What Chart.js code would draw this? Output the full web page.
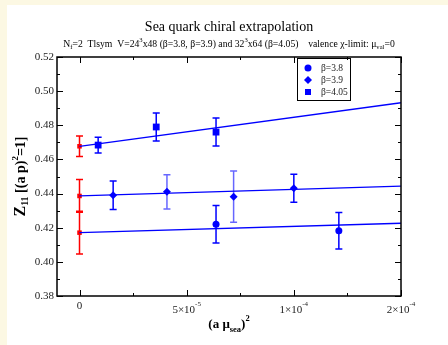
<!DOCTYPE html>
<html>
<head>
<meta charset="utf-8">
<script src="https://cdn.jsdelivr.net/npm/chart.js@4.4.1/dist/chart.umd.min.js"></script>
<style>
  body { margin: 0; background: #fcf8e3; }
  #wrap { position: absolute; left: 0; top: 0; width: 448px; height: 345px; }
</style>
</head>
<body>
<div id="wrap"><canvas id="c" width="448" height="345"></canvas></div>
<script>
// beta = 3.8 (circles)
var beta38X = [6.37e-5, 1.21e-4];
var beta38Y = [0.4220, 0.4182];
var beta38Err = [0.0110, 0.0107];

// beta = 3.9 (diamonds)
var beta39X = [1.57e-5, 4.08e-5, 7.19e-5, 1.0e-4];
var beta39Y = [0.4390, 0.4410, 0.4382, 0.4431];
var beta39Err = [0.0083, 0.0100, 0.0150, 0.0082];

// beta = 4.05 (squares)
var beta405X = [8.7e-6, 3.58e-5, 6.37e-5];
var beta405Y = [0.4684, 0.4790, 0.4760];
var beta405Err = [0.0046, 0.0082, 0.0082];

// chiral limit values (red, at x = 0)
var chiralY = [0.4677, 0.4386, 0.4171];
var chiralErr = [0.0060, 0.0096, 0.0125];

// linear fits: intercept + slope * x   (4.05, 3.9, 3.8)
var fitIntercept = [0.4677, 0.4386, 0.4171];
var fitSlope = [170, 38.7, 36.7];

var xTicks = [0, 5e-5, 1e-4, 1.5e-4];
var xTickLabels = [['0', ''], ['5\u00d710', '-5'], ['1\u00d710', '-4'], ['2\u00d710', '-4']];
var xMin = -1.05e-5, xMax = 1.5e-4;
var yMin = 0.38, yMax = 0.52;

var SERIF = "'Liberation Serif', 'DejaVu Serif', serif";
var blue = '#0000ff';
var red = '#ff0000';

function pts(xs, ys) {
  var out = [];
  for (var i = 0; i < xs.length; i++) out.push({x: xs[i], y: ys[i]});
  return out;
}
function fitLine(k) {
  return [{x: 0, y: fitIntercept[k]}, {x: xMax, y: fitIntercept[k] + fitSlope[k] * xMax}];
}

// draw text made of parts with different size / offset
function richWidth(ctx, parts) {
  var w = 0;
  parts.forEach(function(p) {
    ctx.font = (p.b ? 'bold ' : '') + p.s + 'px ' + SERIF;
    w += ctx.measureText(p.t).width;
  });
  return w;
}
function drawRich(ctx, parts, x, y, align) {
  var w = richWidth(ctx, parts);
  var cx = align == 'center' ? x - w / 2 : x;
  ctx.textAlign = 'left';
  ctx.textBaseline = 'alphabetic';
  parts.forEach(function(p) {
    ctx.font = (p.b ? 'bold ' : '') + p.s + 'px ' + SERIF;
    ctx.fillText(p.t, cx, y + (p.dy || 0));
    cx += ctx.measureText(p.t).width;
  });
}

var pageDeco = {
  id: 'pageDeco',
  beforeDraw: function(chart) {
    var ctx = chart.ctx;
    ctx.save();
    ctx.fillStyle = '#ffffff';
    ctx.fillRect(7, 5, chart.width - 7, chart.height - 5);
    ctx.restore();
  },
  beforeDatasetsDraw: function(chart) {
    // error bars
    var ctx = chart.ctx;
    var xs = chart.scales.x, ys = chart.scales.y;
    ctx.save();
    chart.data.datasets.forEach(function(ds) {
      if (!ds.errors) return;
      ds.data.forEach(function(p, i) {
        var px = xs.getPixelForValue(p.x);
        var top = ys.getPixelForValue(p.y + ds.errors[i]);
        var bot = ys.getPixelForValue(p.y - ds.errors[i]);
        ctx.strokeStyle = ds.barColors ? ds.barColors[i] : ds.borderColor;
        ctx.lineWidth = 1.5;
        ctx.beginPath();
        ctx.moveTo(px, top); ctx.lineTo(px, bot);
        ctx.moveTo(px - 3.5, top); ctx.lineTo(px + 3.5, top);
        ctx.moveTo(px - 3.5, bot); ctx.lineTo(px + 3.5, bot);
        ctx.stroke();
      });
    });
    ctx.restore();
  },
  afterDraw: function(chart) {
    var ctx = chart.ctx;
    var a = chart.chartArea;
    var xs = chart.scales.x, ys = chart.scales.y;
    ctx.save();

    // inward ticks
    ctx.strokeStyle = '#000';
    ctx.lineWidth = 1;
    ctx.beginPath();
    for (var v = 0; v <= xMax + 1e-9; v += 2.5e-5) {
      var px = Math.round(xs.getPixelForValue(v)) + 0.5;
      var major = Math.abs(v / 5e-5 - Math.round(v / 5e-5)) < 1e-6;
      var len = major ? 6 : 3;
      ctx.moveTo(px, a.bottom); ctx.lineTo(px, a.bottom - len);
      ctx.moveTo(px, a.top); ctx.lineTo(px, a.top + len);
    }
    for (var k = 0; k <= 14; k++) {
      var py = Math.round(ys.getPixelForValue(yMin + k * 0.01)) + 0.5;
      var len2 = (k % 2 == 0) ? 6 : 3;
      ctx.moveTo(a.left, py); ctx.lineTo(a.left + len2, py);
      ctx.moveTo(a.right, py); ctx.lineTo(a.right - len2, py);
    }
    ctx.stroke();

    // frame
    ctx.lineWidth = 1.5;
    ctx.strokeRect(a.left, a.top, a.right - a.left, a.bottom - a.top);

    // x tick labels
    ctx.fillStyle = '#222';
    xTicks.forEach(function(v, i) {
      var px = xs.getPixelForValue(v);
      var lab = xTickLabels[i];
      if (lab[1] == '') {
        drawRich(ctx, [{t: lab[0], s: 11}], px, a.bottom + 12.5, 'center');
      } else {
        drawRich(ctx, [{t: lab[0], s: 11}, {t: lab[1], s: 7, dy: -7}], px, a.bottom + 17, 'center');
      }
    });

    // titles
    ctx.fillStyle = '#000';
    var cx = (a.left + a.right) / 2;
    drawRich(ctx, [{t: 'Sea quark chiral extrapolation', s: 14}], cx, 30.5, 'center');
    var sub = [
      {t: 'N', s: 9.5}, {t: 'f', s: 6.5, dy: 2}, {t: '=2  Tlsym  V=24', s: 9.5},
      {t: '3', s: 6.5, dy: -4}, {t: 'x48 (\u03b2=3.8, \u03b2=3.9) and 32', s: 9.5},
      {t: '3', s: 6.5, dy: -4}, {t: 'x64 (\u03b2=4.05)    valence \u03c7-limit: \u03bc', s: 9.5},
      {t: 'val', s: 6.5, dy: 2}, {t: '=0', s: 9.5}
    ];
    var f = 332 / richWidth(ctx, sub);
    sub.forEach(function(p) { p.s = p.s * f; p.dy = (p.dy || 0) * f; });
    drawRich(ctx, sub, cx, 46.5, 'center');

    // x axis title
    drawRich(ctx, [
      {t: '(a \u03bc', s: 13, b: true}, {t: 'sea', s: 8.5, b: true, dy: 4},
      {t: ')', s: 13, b: true}, {t: '2', s: 8.5, b: true, dy: -7}
    ], cx, a.bottom + 32, 'center');

    // y axis title
    ctx.save();
    ctx.translate(25, (a.top + a.bottom) / 2);
    ctx.rotate(-Math.PI / 2);
    drawRich(ctx, [
      {t: 'Z', s: 16, b: true}, {t: '11', s: 10, b: true, dy: 3},
      {t: ' [(a p)', s: 14, b: true}, {t: '2', s: 9, b: true, dy: -7},
      {t: '=1]', s: 14, b: true}
    ], 0, 0, 'center');
    ctx.restore();

    // legend
    ctx.lineWidth = 1;
    ctx.strokeStyle = '#000';
    ctx.strokeRect(297.5, 58.5, 53, 42);
    ctx.fillStyle = blue;
    ctx.beginPath(); ctx.arc(308, 68, 3.5, 0, Math.PI * 2); ctx.fill();
    ctx.beginPath();
    ctx.moveTo(308, 76); ctx.lineTo(312, 80); ctx.lineTo(308, 84); ctx.lineTo(304, 80);
    ctx.closePath(); ctx.fill();
    ctx.fillRect(305, 89, 6, 6);
    ctx.fillStyle = '#222';
    ctx.font = '9.5px ' + SERIF;
    ctx.textBaseline = 'middle';
    ctx.fillText('\u03b2=3.8', 321, 68);
    ctx.fillText('\u03b2=3.9', 321, 80);
    ctx.fillText('\u03b2=4.05', 321, 92);
    ctx.restore();
  }
};

var lineStyle = {type: 'line', borderColor: blue, borderWidth: 1.3, pointRadius: 0, fill: false, showLine: true};

var datasets = [
  Object.assign({data: fitLine(0)}, lineStyle),
  Object.assign({data: fitLine(1)}, lineStyle),
  Object.assign({data: fitLine(2)}, lineStyle),
  {
    data: pts(beta38X, beta38Y), errors: beta38Err, borderColor: blue, backgroundColor: blue,
    pointStyle: 'circle', pointRadius: 3.5, borderWidth: 0
  },
  {
    data: pts(beta39X, beta39Y), errors: beta39Err, borderColor: blue, backgroundColor: blue,
    barColors: [blue, 'rgba(0,0,255,0.6)', 'rgba(0,0,255,0.6)', blue],
    pointStyle: 'rectRot', pointRadius: 4, borderWidth: 0
  },
  {
    data: pts(beta405X, beta405Y), errors: beta405Err, borderColor: blue, backgroundColor: blue,
    pointStyle: 'rect', pointRadius: 4.8, borderWidth: 0
  },
  {
    data: pts([0, 0, 0], chiralY), errors: chiralErr, borderColor: red, backgroundColor: red,
    pointStyle: 'rect', pointRadius: 3.2, borderWidth: 0
  }
];

new Chart(document.getElementById('c'), {
  type: 'scatter',
  data: {datasets: datasets},
  options: {
    responsive: false,
    animation: false,
    layout: {padding: {left: 0, top: 57, right: 47, bottom: 0}},
    plugins: {legend: {display: false}, tooltip: {enabled: false}, title: {display: false}},
    scales: {
      x: {
        type: 'linear', min: xMin, max: xMax,
        grid: {display: false}, border: {display: false},
        ticks: {display: false},
        afterFit: function(s) { s.height = 49; }
      },
      y: {
        type: 'linear', min: yMin, max: yMax,
        grid: {display: false, drawTicks: false}, border: {display: false},
        ticks: {
          stepSize: 0.02, padding: 3, color: '#222',
          font: {family: SERIF, size: 11},
          callback: function(v) { return v.toFixed(2); }
        },
        afterFit: function(s) { s.width = 57; }
      }
    }
  },
  plugins: [pageDeco]
});
</script>
</body>
</html>
